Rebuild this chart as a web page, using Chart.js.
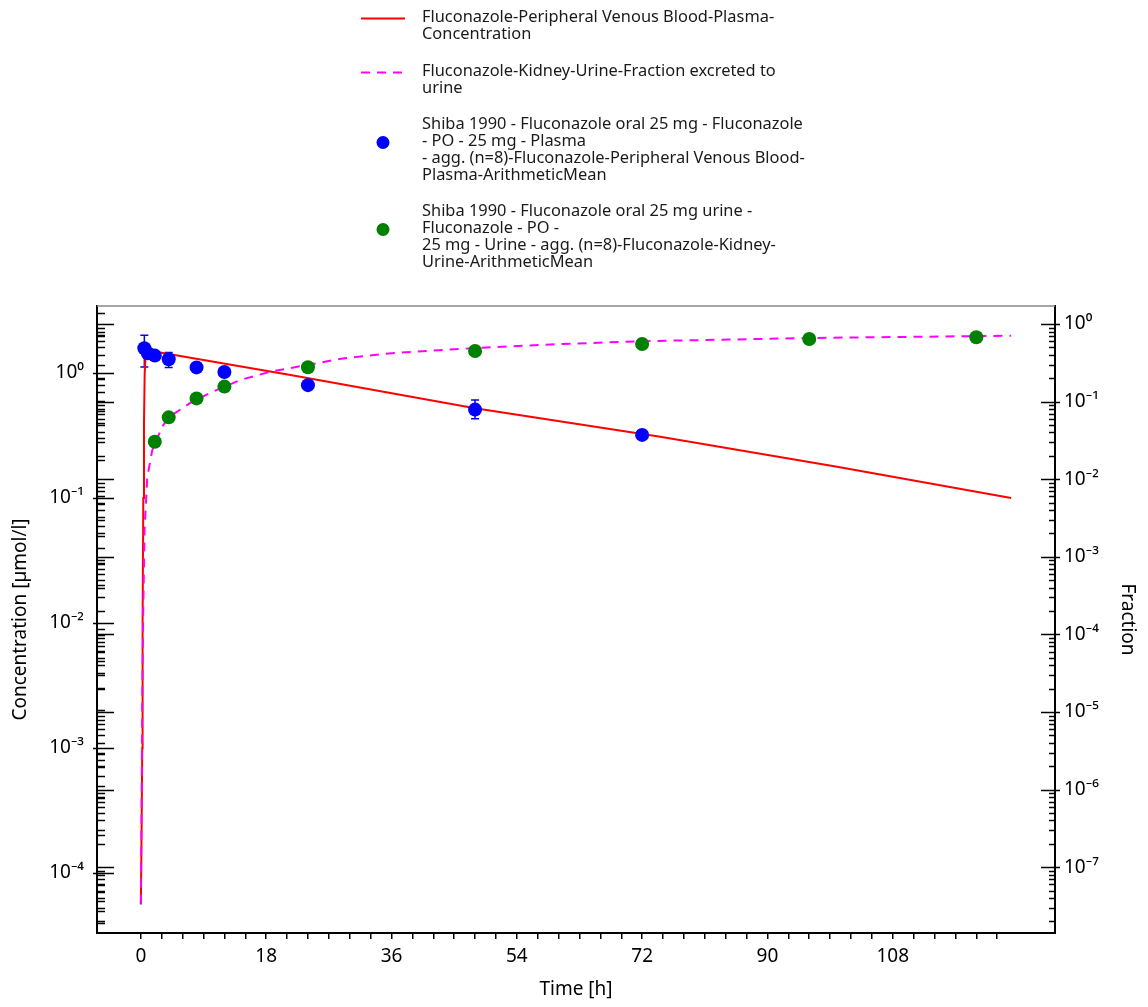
<!DOCTYPE html>
<html>
<head>
<meta charset="utf-8">
<script src="https://cdn.jsdelivr.net/npm/chart.js@4.4.1/dist/chart.umd.min.js"></script>
<style>
    body { margin: 0; background: #fff; }
</style>
</head>
<body>
<canvas id="chart" width="1148" height="1007"></canvas>
<script>
// Simulation - concentration plasma (axe gauche)
const simTime = [0, 0.1, 0.2, 0.25, 0.35, 0.45, 0.55, 0.7, 1, 1.5, 21.5, 48, 74.6, 100, 125];
const simConc = [5.6e-5, 2e-4, 1e-3, 0.01, 0.1, 0.4, 1.0, 1.45, 1.53, 1.5, 0.964, 0.522, 0.309, 0.178, 0.10];

// Simulation - fraction urine (axe droit)
const simFracTime = [0, 0.12, 0.2, 0.34, 0.53, 0.92, 1.64, 3.07, 4, 7.1, 9.9, 14.3, 18.6, 23.3, 29, 36, 48, 60, 72, 96, 125];
const simFrac = [3.4e-8, 1e-6, 1.5e-5, 1.9e-4, 2.2e-3, 0.0106, 0.0238, 0.0475, 0.063, 0.096, 0.129, 0.19, 0.243, 0.29, 0.36, 0.42, 0.49, 0.55, 0.60, 0.66, 0.707];

// Observations plasma (moyenne + barres d'erreur)
const obsPlasmaTime = [0.5, 1, 2, 4, 8, 12, 24, 48, 72];
const obsPlasma     = [1.58, 1.44, 1.38, 1.29, 1.11, 1.02, 0.80, 0.51, 0.32];
const obsPlasmaLow  = [1.12, null, null, 1.11, null, null, 0.77, 0.43, null];
const obsPlasmaHigh = [2.01, null, null, 1.46, null, null, 0.83, 0.61, null];

// Observations urine
const obsUrineTime = [2, 4, 8, 12, 24, 48, 72, 96, 120];
const obsUrine     = [0.0304, 0.0627, 0.110, 0.156, 0.277, 0.449, 0.552, 0.641, 0.675];

// Graduations
const timeTicks = [0, 18, 36, 54, 72, 90, 108];
const timeTickStep = 3;
const timeTickEnd = 123;
const concTicks = [1e-4, 1e-3, 1e-2, 1e-1, 1];
const concTickLabels = ['10⁻⁴', '10⁻³', '10⁻²', '10⁻¹', '10⁰'];
const fracTicks = [1e-7, 1e-6, 1e-5, 1e-4, 1e-3, 1e-2, 1e-1, 1];
const fracTickLabels = ['10⁻⁷', '10⁻⁶', '10⁻⁵', '10⁻⁴', '10⁻³', '10⁻²', '10⁻¹', '10⁰'];

// Legende
const legendTexts = [
    ['Fluconazole-Peripheral Venous Blood-Plasma-', 'Concentration'],
    ['Fluconazole-Kidney-Urine-Fraction excreted to', 'urine'],
    ['Shiba 1990 - Fluconazole oral 25 mg - Fluconazole', '- PO - 25 mg - Plasma', '- agg. (n=8)-Fluconazole-Peripheral Venous Blood-', 'Plasma-ArithmeticMean'],
    ['Shiba 1990 - Fluconazole oral 25 mg urine -', 'Fluconazole - PO -', '25 mg - Urine - agg. (n=8)-Fluconazole-Kidney-', 'Urine-ArithmeticMean']
];
const legendFirstLine = [17, 71, 124, 211];

function toPoints(xs, ys) {
    return xs.map((x, i) => ({x: x, y: ys[i]}));
}

function isPow10(v) {
    const l = Math.log10(v);
    return Math.abs(l - Math.round(l)) < 1e-9;
}

// ticks 1..9 x 10^n dans l'intervalle
function logTicks(min, max) {
    const out = [];
    for (let e = Math.floor(Math.log10(min)); e <= Math.ceil(Math.log10(max)); e++) {
        for (let m = 1; m <= 9; m++) {
            const v = m * Math.pow(10, e);
            if (v >= min && v <= max) out.push({value: v});
        }
    }
    return out;
}

function labelFor(v, values, labels) {
    for (let i = 0; i < values.length; i++) {
        if (Math.abs(Math.log10(v) - Math.log10(values[i])) < 1e-6) return labels[i];
    }
    return '';
}

Chart.defaults.font.family = '"Noto Sans", sans-serif';
Chart.defaults.color = '#000';

// Barres d'erreur
const errorBars = {
    id: 'errorBars',
    beforeDatasetsDraw(chart) {
        const ctx = chart.ctx;
        const x = chart.scales.x, y = chart.scales.y;
        ctx.save();
        ctx.strokeStyle = '#0000ff';
        ctx.lineWidth = 1.5;
        obsPlasmaTime.forEach((t, i) => {
            if (obsPlasmaLow[i] === null) return;
            const px = x.getPixelForValue(t);
            const y1 = y.getPixelForValue(obsPlasmaLow[i]);
            const y2 = y.getPixelForValue(obsPlasmaHigh[i]);
            ctx.beginPath();
            ctx.moveTo(px, y1); ctx.lineTo(px, y2);
            ctx.moveTo(px - 4, y1); ctx.lineTo(px + 4, y1);
            ctx.moveTo(px - 4, y2); ctx.lineTo(px + 4, y2);
            ctx.stroke();
        });
        ctx.restore();
    }
};

// Graduations vers l'interieur + cadre haut
const tickMarks = {
    id: 'tickMarks',
    afterDraw(chart) {
        const ctx = chart.ctx;
        const a = chart.chartArea;
        const yl = chart.scales.y, yr = chart.scales.y2;
        ctx.save();
        ctx.strokeStyle = '#888';
        ctx.lineWidth = 1.5;
        ctx.beginPath();
        ctx.moveTo(a.left, a.top); ctx.lineTo(a.right, a.top);
        ctx.stroke();

        ctx.strokeStyle = '#000';
        ctx.lineWidth = 1.5;
        ctx.beginPath();
        // axe gauche : ses ticks + ceux de l'axe droit
        [yl, yr].forEach(s => {
            s.ticks.forEach(t => {
                const py = Math.round(s.getPixelForValue(t.value)) + 0.5;
                if (py < a.top || py > a.bottom) return;
                if (isPow10(t.value)) {
                    ctx.moveTo(a.left - (s === yl ? 4 : 0), py); ctx.lineTo(a.left + 17, py);
                } else {
                    ctx.moveTo(a.left, py); ctx.lineTo(a.left + 8, py);
                }
            });
        });
        // axe droit
        yr.ticks.forEach(t => {
            const py = Math.round(yr.getPixelForValue(t.value)) + 0.5;
            if (py < a.top || py > a.bottom) return;
            if (isPow10(t.value)) {
                ctx.moveTo(a.right - 14, py); ctx.lineTo(a.right + 5, py);
            } else {
                ctx.moveTo(a.right - 6, py); ctx.lineTo(a.right, py);
            }
        });
        ctx.stroke();
        ctx.restore();
    }
};

// Legende multi-lignes
const customLegend = {
    id: 'customLegend',
    afterDraw(chart) {
        const ctx = chart.ctx;
        const ds = chart.data.datasets;
        const lineH = 17;
        const textX = 422, symX = 383;
        ctx.save();
        ctx.font = '16.4px "Noto Sans", sans-serif';
        ctx.fillStyle = '#1a1a1a';
        ctx.textBaseline = 'middle';
        ctx.textAlign = 'left';
        legendTexts.forEach((lines, i) => {
            const y0 = legendFirstLine[i];
            lines.forEach((l, j) => ctx.fillText(l, textX, y0 + j * lineH));
            const symY = y0 + (lines.length - 1) * lineH / 2 - 7;
            const d = ds[i];
            if (d.showLine) {
                ctx.strokeStyle = d.borderColor;
                ctx.lineWidth = 2;
                ctx.setLineDash(d.borderDash || []);
                ctx.beginPath();
                ctx.moveTo(symX - 22, symY); ctx.lineTo(symX + 22, symY);
                ctx.stroke();
                ctx.setLineDash([]);
            } else {
                ctx.fillStyle = d.backgroundColor;
                ctx.beginPath();
                ctx.arc(symX, symY, 6.5, 0, Math.PI * 2);
                ctx.fill();
                ctx.fillStyle = '#1a1a1a';
            }
        });
        ctx.restore();
    }
};

let ctx = document.getElementById('chart').getContext('2d');

let config = {
    type: 'scatter',
    data: {
        datasets: [{
            label: legendTexts[0].join(' '),
            data: toPoints(simTime, simConc),
            yAxisID: 'y',
            showLine: true,
            borderColor: '#ff0000',
            backgroundColor: '#ff0000',
            borderWidth: 2,
            pointRadius: 0,
            order: 3
        }, {
            label: legendTexts[1].join(' '),
            data: toPoints(simFracTime, simFrac),
            yAxisID: 'y2',
            showLine: true,
            borderColor: '#ff00ff',
            backgroundColor: '#ff00ff',
            borderWidth: 2,
            borderDash: [9, 7],
            pointRadius: 0,
            order: 2
        }, {
            label: legendTexts[2].join(' '),
            data: toPoints(obsPlasmaTime, obsPlasma),
            yAxisID: 'y',
            showLine: false,
            backgroundColor: '#0000ff',
            borderColor: '#0000ff',
            borderWidth: 0,
            pointRadius: 7,
            order: 1
        }, {
            label: legendTexts[3].join(' '),
            data: toPoints(obsUrineTime, obsUrine),
            yAxisID: 'y2',
            showLine: false,
            backgroundColor: '#008000',
            borderColor: '#008000',
            borderWidth: 0,
            pointRadius: 7,
            order: 0
        }]
    },
    options: {
        responsive: false,
        animation: false,
        layout: { padding: { top: 306, left: 0, right: 0, bottom: 0 } },
        plugins: {
            legend: { display: false },
            tooltip: { enabled: false }
        },
        scales: {
            x: {
                type: 'linear',
                position: 'bottom',
                bounds: 'data',
                min: -6.3,
                max: 131.3,
                afterBuildTicks: s => {
                    s.ticks = [];
                    for (let t = 0; t <= timeTickEnd; t += timeTickStep) s.ticks.push({value: t});
                },
                afterFit: s => { s.height = 74; },
                grid: { drawOnChartArea: false, drawTicks: true, tickLength: 6, color: '#000', lineWidth: 1.5 },
                border: { display: true, color: '#000', width: 2 },
                ticks: {
                    autoSkip: false, maxRotation: 0, padding: 6, color: '#000', font: { size: 19 },
                    callback: v => timeTicks.includes(v) ? String(v) : ''
                },
                title: { display: true, text: 'Time [h]', color: '#000', font: { size: 19 }, padding: { top: 0, bottom: 6 } }
            },
            y: {
                type: 'logarithmic',
                position: 'left',
                bounds: 'data',
                min: 3.31e-5,
                max: 3.44,
                afterBuildTicks: s => { s.ticks = logTicks(s.min, s.max); },
                afterFit: s => { s.width = 97; },
                grid: { display: false },
                border: { display: true, color: '#000', width: 2 },
                ticks: {
                    autoSkip: false, padding: 5, color: '#000', font: { size: 19 },
                    callback: v => labelFor(v, concTicks, concTickLabels)
                },
                title: { display: true, text: 'Concentration [µmol/l]', color: '#000', font: { size: 19 }, padding: { top: 9, bottom: 0 } }
            },
            y2: {
                type: 'logarithmic',
                position: 'right',
                bounds: 'data',
                min: 1.42e-8,
                max: 1.706,
                afterBuildTicks: s => { s.ticks = logTicks(s.min, s.max); },
                afterFit: s => { s.width = 93; },
                grid: { display: false },
                border: { display: true, color: '#000', width: 2 },
                ticks: {
                    autoSkip: false, padding: 1, color: '#000', font: { size: 19 },
                    callback: v => labelFor(v, fracTicks, fracTickLabels)
                },
                title: { display: true, text: 'Fraction', color: '#000', font: { size: 19 }, padding: { top: 9, bottom: 0 } }
            }
        }
    },
    plugins: [errorBars, tickMarks, customLegend]
};

let fluconazoleChart = new Chart(ctx, config);
</script>
</body>
</html>
